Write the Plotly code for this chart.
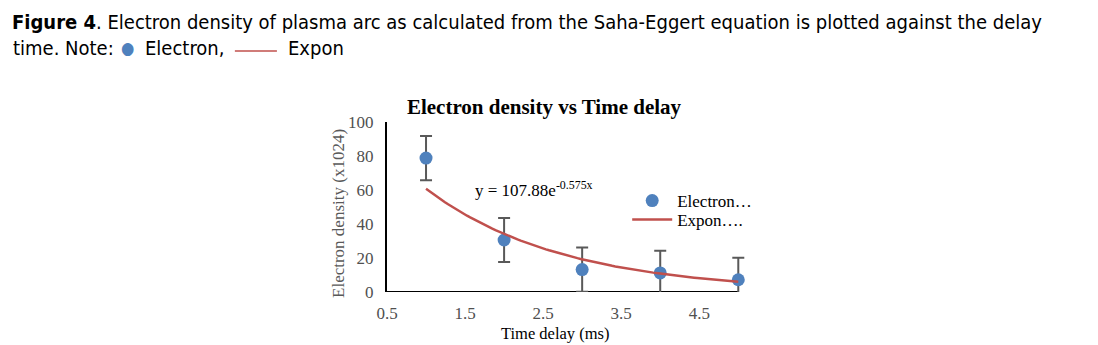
import numpy as np
import plotly.graph_objects as go

# Data
delay_ms = [1, 2, 3, 4, 5]
electron_density = [78.8, 30.6, 13.2, 11.2, 7.2]
error_sd = [13, 13, 13, 13, 13]
fit_a = 107.88
fit_b = -0.575
x_ticks = [0.5, 1.5, 2.5, 3.5, 4.5]
y_ticks = [0, 20, 40, 60, 80, 100]
x_min, x_max, x_pad = 0.5, 5.0, 0.15

BLUE = "#4F81BD"
RED = "#C0504D"
GREY = "#505050"
SERIF = "Liberation Serif, Times New Roman, serif"
SANS = "DejaVu Sans Condensed, Liberation Sans Narrow, Arial Narrow, sans-serif"

fit_x = np.linspace(min(delay_ms), max(delay_ms), 100)
fit_y = fit_a * np.exp(fit_b * fit_x)

# plot-area geometry (pixels)
L, T, B = 387, 122, 292
X5 = 738  # pixel of x = 5
R = X5 + (X5 - L) / (x_max - x_min) * x_pad
def px(xp):
    return (xp - L) / (R - L)
def py(yp):
    return (B - yp) / (B - T)

fig = go.Figure()
fig.add_trace(go.Scatter(
    x=delay_ms, y=electron_density, mode="markers", name="Electron…",
    marker=dict(color=BLUE, size=13),
    error_y=dict(type="data", array=error_sd, color="#595959", thickness=2, width=6),
    legend="legend",
))
fig.add_trace(go.Scatter(
    x=fit_x, y=fit_y, mode="lines", name="Expon….",
    line=dict(color=RED, width=2.5),
    legend="legend2",
))

leg_common = dict(xanchor="left", yanchor="middle",
                  font=dict(family=SERIF, size=17, color="#000000"),
                  bgcolor="rgba(0,0,0,0)", itemwidth=40)
fig.update_layout(
    width=1098, height=345,
    margin=dict(l=L, r=1098 - R, t=T, b=345 - B),
    paper_bgcolor="white", plot_bgcolor="white",
    showlegend=True,
    legend=dict(x=px(627), y=py(201), **leg_common),
    legend2=dict(x=px(627), y=py(220), **leg_common),
    title=dict(text="<b>Electron density vs Time delay</b>", x=544 / 1098, xanchor="center",
               y=1 - 107 / 345, yanchor="middle",
               font=dict(family=SERIF, size=21, color="#000000")),
    xaxis=dict(range=[x_min, x_max + x_pad], tickvals=x_ticks, ticktext=[str(v) for v in x_ticks],
               showgrid=False, zeroline=False, showline=False,
               ticks="", ticklabelstandoff=9, automargin=False,
               tickfont=dict(family=SERIF, size=17, color=GREY)),
    yaxis=dict(range=[0, 100], tickvals=y_ticks, showgrid=False, zeroline=False,
               showline=True, linecolor="#000000", linewidth=2, ticks="",
               ticklabelstandoff=8, automargin=False,
               tickfont=dict(family=SERIF, size=17, color=GREY)),
)

# x axis line ending at x = 5
fig.add_shape(type="line", xref="x", yref="y", x0=x_min, x1=x_max, y0=0, y1=0,
              line=dict(color="#000000", width=2), layer="below")

# axis titles
fig.add_annotation(x=px(555), y=py(333), xref="paper", yref="paper", showarrow=False,
                   xanchor="center", yanchor="middle",
                   text="Time delay (ms)", font=dict(family=SERIF, size=16.5, color="#000000"))
fig.add_annotation(x=px(338), y=py(213), xref="paper", yref="paper", showarrow=False,
                   xanchor="center", yanchor="middle",
                   text="Electron density (x1024)", textangle=-90,
                   font=dict(family=SERIF, size=17, color="#595959"))

fig.add_annotation(x=2.38, y=60.5, xref="x", yref="y", showarrow=False,
                   text="y = 107.88e<sup>-0.575x</sup>",
                   font=dict(family=SERIF, size=17, color="#000000"))

# Caption
fig.add_annotation(x=px(10), y=py(22), xref="paper", yref="paper",
                   xanchor="left", yanchor="middle", showarrow=False, align="left",
                   text="<b>Figure 4</b>. Electron density of plasma arc as calculated from the Saha-Eggert equation is plotted against the delay",
                   font=dict(family=SANS, size=20, color="#000000"))
fig.add_annotation(x=px(11), y=py(48), xref="paper", yref="paper",
                   xanchor="left", yanchor="middle", showarrow=False, align="left",
                   text="time. Note:", font=dict(family=SANS, size=20, color="#000000"))
fig.add_annotation(x=px(128), y=py(48), xref="paper", yref="paper",
                   xanchor="center", yanchor="middle", showarrow=False,
                   text="●", font=dict(family=SANS, size=17, color=BLUE))
fig.add_annotation(x=px(143), y=py(48), xref="paper", yref="paper",
                   xanchor="left", yanchor="middle", showarrow=False,
                   text="Electron,", font=dict(family=SANS, size=20, color="#000000"))
fig.add_annotation(x=px(286), y=py(48), xref="paper", yref="paper",
                   xanchor="left", yanchor="middle", showarrow=False,
                   text="Expon", font=dict(family=SANS, size=20, color="#000000"))
fig.add_shape(type="line", xref="paper", yref="paper",
              x0=px(235), x1=px(277), y0=py(51), y1=py(51),
              line=dict(color=RED, width=1.5))

fig.write_html("out.html")
